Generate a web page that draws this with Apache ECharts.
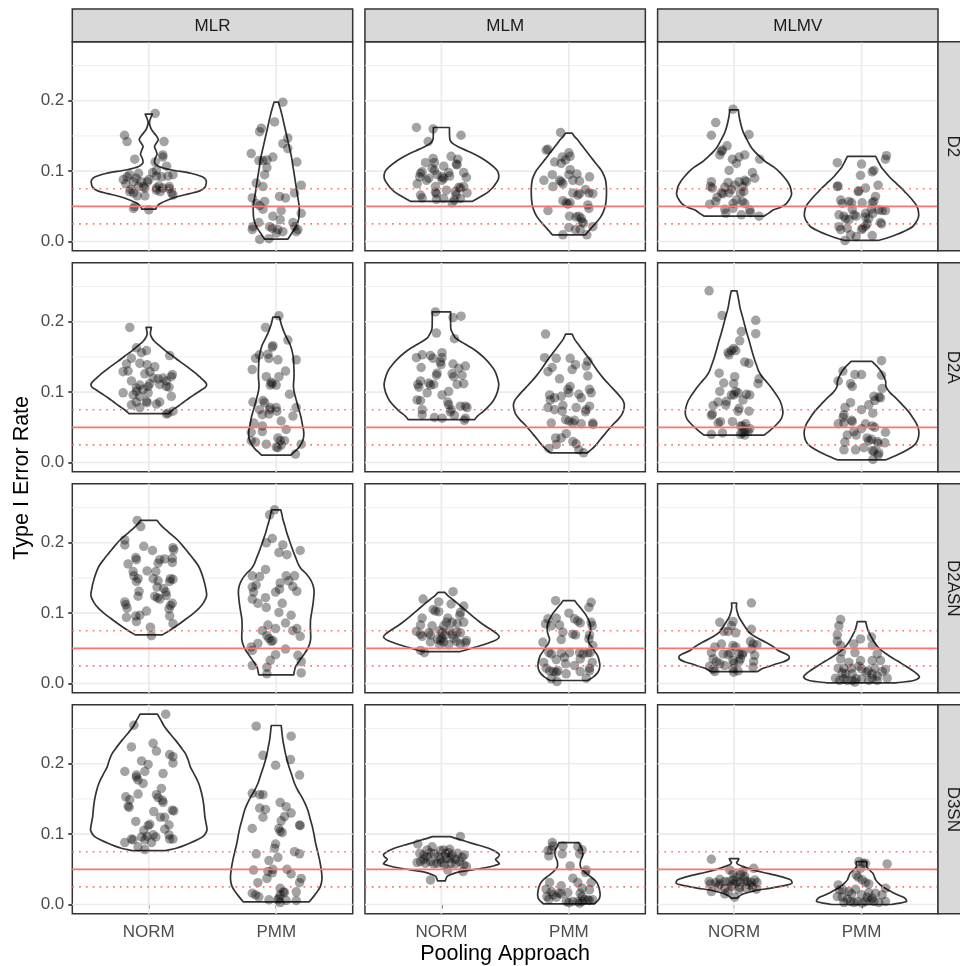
<!DOCTYPE html>
<html><head><meta charset="utf-8">
<script src="https://cdn.jsdelivr.net/npm/echarts@6/dist/echarts.min.js"></script>
<style>html,body{margin:0;padding:0;background:#fff}#c{width:960px;height:966px}</style>
</head><body><div id="c"></div>
<script>
// ---------- facet / axis labels ----------
const rowNames = ['D2','D2A','D2ASN','D3SN'];
const colNames = ['MLR','MLM','MLMV'];
const methods = ['NORM','PMM'];
const yTicks = [0, 0.1, 0.2];
const yMinorTicks = [0.05, 0.15, 0.25];
const refLines = [0.025, 0.05, 0.075];
const refTypes = ['dotted','solid','dotted'];
const yTitle = 'Type I Error Rate';
const xTitle = 'Pooling Approach';

// ---------- violin outlines: [value, half-width in category units] ----------
const D2_MLR_NORM_shape = [[0.181,0.028],[0.176,0.016],[0.170,0.006],[0.164,0.010],[0.158,0.025],[0.150,0.060],[0.145,0.075],[0.140,0.060],[0.135,0.045],[0.130,0.055],[0.124,0.065],[0.118,0.050],[0.112,0.045],[0.107,0.075],[0.102,0.170],[0.097,0.330],[0.092,0.420],[0.087,0.450],[0.082,0.450],[0.077,0.440],[0.072,0.400],[0.068,0.320],[0.064,0.230],[0.059,0.150],[0.054,0.090],[0.050,0.065],[0.046,0.055]];
const D2_MLR_PMM_shape = [[0.198,0.017],[0.190,0.030],[0.180,0.045],[0.168,0.060],[0.156,0.075],[0.144,0.090],[0.132,0.105],[0.120,0.120],[0.108,0.130],[0.097,0.140],[0.085,0.150],[0.073,0.160],[0.062,0.170],[0.050,0.180],[0.040,0.180],[0.031,0.175],[0.023,0.160],[0.0165,0.140],[0.010,0.115],[0.007,0.105],[0.0033,0.090]];
const D2_MLM_NORM_shape = [[0.162,0.063],[0.150,0.064],[0.144,0.068],[0.139,0.090],[0.134,0.140],[0.129,0.200],[0.124,0.260],[0.118,0.320],[0.112,0.370],[0.106,0.410],[0.100,0.440],[0.094,0.450],[0.088,0.445],[0.082,0.425],[0.076,0.400],[0.071,0.370],[0.066,0.330],[0.062,0.290],[0.057,0.240]];
const D2_MLM_PMM_shape = [[0.154,0.026],[0.149,0.045],[0.144,0.072],[0.137,0.100],[0.130,0.130],[0.123,0.160],[0.116,0.190],[0.108,0.225],[0.101,0.255],[0.094,0.275],[0.087,0.288],[0.078,0.294],[0.068,0.295],[0.058,0.292],[0.050,0.285],[0.042,0.270],[0.035,0.250],[0.028,0.220],[0.021,0.185],[0.015,0.155],[0.0095,0.130]];
const D2_MLMV_NORM_shape = [[0.187,0.034],[0.180,0.038],[0.173,0.045],[0.163,0.058],[0.154,0.075],[0.145,0.100],[0.135,0.130],[0.128,0.160],[0.121,0.200],[0.113,0.250],[0.106,0.310],[0.099,0.355],[0.092,0.390],[0.085,0.420],[0.078,0.440],[0.070,0.450],[0.066,0.450],[0.060,0.435],[0.054,0.410],[0.049,0.370],[0.045,0.310],[0.040,0.270],[0.036,0.235]];
const D2_MLMV_PMM_shape = [[0.121,0.111],[0.114,0.130],[0.106,0.154],[0.099,0.185],[0.092,0.218],[0.085,0.258],[0.078,0.300],[0.071,0.338],[0.064,0.375],[0.057,0.408],[0.050,0.435],[0.042,0.447],[0.035,0.447],[0.028,0.430],[0.021,0.400],[0.015,0.340],[0.0095,0.270],[0.005,0.200],[0.0015,0.130]];

const D2A_MLR_NORM_shape = [[0.192,0.021],[0.187,0.015],[0.182,0.013],[0.177,0.025],[0.172,0.046],[0.165,0.090],[0.158,0.137],[0.151,0.190],[0.144,0.240],[0.137,0.295],[0.130,0.345],[0.125,0.380],[0.120,0.410],[0.115,0.440],[0.111,0.454],[0.107,0.445],[0.104,0.420],[0.098,0.370],[0.092,0.320],[0.086,0.275],[0.080,0.230],[0.075,0.190],[0.0695,0.155]];
const D2A_MLR_PMM_shape = [[0.2065,0.026],[0.196,0.040],[0.186,0.060],[0.176,0.085],[0.167,0.110],[0.158,0.125],[0.148,0.135],[0.137,0.138],[0.125,0.140],[0.117,0.138],[0.110,0.135],[0.103,0.138],[0.097,0.145],[0.088,0.158],[0.080,0.170],[0.072,0.183],[0.064,0.195],[0.054,0.205],[0.045,0.215],[0.038,0.216],[0.032,0.210],[0.026,0.195],[0.022,0.180],[0.018,0.160],[0.014,0.135],[0.0104,0.115]];
const D2A_MLM_NORM_shape = [[0.214,0.072],[0.200,0.072],[0.189,0.075],[0.183,0.090],[0.177,0.110],[0.170,0.170],[0.163,0.235],[0.156,0.290],[0.148,0.340],[0.139,0.385],[0.130,0.420],[0.120,0.440],[0.111,0.450],[0.101,0.440],[0.092,0.420],[0.085,0.395],[0.078,0.360],[0.072,0.325],[0.066,0.283],[0.061,0.260]];
const D2A_MLM_PMM_shape = [[0.1825,0.026],[0.175,0.045],[0.167,0.078],[0.158,0.115],[0.148,0.157],[0.139,0.192],[0.130,0.226],[0.122,0.260],[0.115,0.294],[0.108,0.330],[0.101,0.366],[0.094,0.400],[0.088,0.425],[0.082,0.435],[0.075,0.430],[0.068,0.415],[0.061,0.385],[0.054,0.346],[0.047,0.312],[0.040,0.280],[0.033,0.248],[0.0255,0.215],[0.019,0.180],[0.0137,0.144]];
const D2A_MLMV_NORM_shape = [[0.244,0.022],[0.232,0.035],[0.219,0.048],[0.208,0.065],[0.196,0.082],[0.184,0.100],[0.172,0.120],[0.160,0.138],[0.148,0.157],[0.139,0.175],[0.130,0.193],[0.122,0.220],[0.115,0.253],[0.108,0.285],[0.101,0.313],[0.094,0.340],[0.087,0.362],[0.078,0.378],[0.070,0.383],[0.062,0.370],[0.054,0.333],[0.046,0.285],[0.0388,0.235]];
const D2A_MLMV_PMM_shape = [[0.1437,0.081],[0.137,0.120],[0.130,0.151],[0.122,0.175],[0.115,0.190],[0.110,0.190],[0.105,0.200],[0.099,0.225],[0.092,0.268],[0.082,0.320],[0.073,0.366],[0.063,0.405],[0.054,0.435],[0.047,0.447],[0.040,0.450],[0.032,0.440],[0.0255,0.418],[0.018,0.360],[0.0113,0.287],[0.0038,0.190]];

const D2ASN_MLR_NORM_shape = [[0.2317,0.065],[0.225,0.095],[0.219,0.130],[0.212,0.175],[0.205,0.220],[0.196,0.265],[0.186,0.310],[0.177,0.350],[0.167,0.390],[0.158,0.412],[0.148,0.430],[0.137,0.445],[0.125,0.454],[0.115,0.430],[0.106,0.390],[0.099,0.345],[0.092,0.294],[0.086,0.250],[0.080,0.202],[0.075,0.160],[0.069,0.105]];
const D2ASN_MLR_PMM_shape = [[0.2468,0.035],[0.240,0.045],[0.2335,0.052],[0.224,0.068],[0.2147,0.082],[0.205,0.100],[0.196,0.117],[0.186,0.137],[0.177,0.157],[0.170,0.172],[0.163,0.195],[0.156,0.235],[0.148,0.268],[0.139,0.290],[0.130,0.297],[0.120,0.293],[0.111,0.287],[0.101,0.278],[0.092,0.270],[0.085,0.268],[0.078,0.268],[0.070,0.270],[0.063,0.270],[0.056,0.262],[0.049,0.245],[0.042,0.220],[0.035,0.193],[0.029,0.170],[0.023,0.150],[0.0123,0.137]];
const D2ASN_MLM_NORM_shape = [[0.1295,0.026],[0.125,0.050],[0.120,0.085],[0.1154,0.117],[0.108,0.165],[0.101,0.209],[0.094,0.255],[0.087,0.303],[0.081,0.350],[0.075,0.402],[0.070,0.440],[0.066,0.454],[0.062,0.430],[0.0586,0.385],[0.055,0.330],[0.0515,0.261],[0.048,0.200],[0.0454,0.146]];
const D2ASN_MLM_PMM_shape = [[0.1177,0.046],[0.112,0.070],[0.106,0.098],[0.0965,0.137],[0.0846,0.167],[0.0752,0.170],[0.069,0.162],[0.0634,0.152],[0.057,0.160],[0.0515,0.183],[0.045,0.205],[0.0397,0.225],[0.032,0.238],[0.0255,0.243],[0.019,0.236],[0.0137,0.218],[0.009,0.190],[0.0043,0.148]];
const D2ASN_MLMV_NORM_shape = [[0.1144,0.020],[0.108,0.018],[0.101,0.026],[0.094,0.040],[0.087,0.063],[0.080,0.088],[0.0728,0.117],[0.066,0.170],[0.0586,0.248],[0.052,0.310],[0.0468,0.346],[0.0397,0.428],[0.035,0.430],[0.031,0.390],[0.028,0.333],[0.0245,0.280],[0.0217,0.228],[0.017,0.183]];
const D2ASN_MLMV_PMM_shape = [[0.088,0.033],[0.082,0.040],[0.075,0.052],[0.069,0.068],[0.0634,0.085],[0.056,0.110],[0.049,0.144],[0.042,0.195],[0.035,0.255],[0.029,0.310],[0.0232,0.360],[0.0185,0.400],[0.0137,0.435],[0.009,0.454],[0.0043,0.410],[0.0009,0.270]];

const D3SN_MLR_NORM_shape = [[0.2705,0.068],[0.262,0.095],[0.2525,0.124],[0.243,0.165],[0.2336,0.209],[0.224,0.250],[0.2147,0.287],[0.205,0.310],[0.1957,0.326],[0.184,0.360],[0.172,0.392],[0.160,0.412],[0.148,0.426],[0.137,0.434],[0.125,0.440],[0.115,0.450],[0.106,0.457],[0.101,0.445],[0.0965,0.424],[0.092,0.380],[0.087,0.320],[0.083,0.265],[0.080,0.215],[0.0766,0.130]];
const D3SN_MLR_PMM_shape = [[0.2544,0.039],[0.244,0.045],[0.2336,0.052],[0.224,0.062],[0.2147,0.072],[0.205,0.085],[0.1957,0.100],[0.184,0.122],[0.172,0.144],[0.162,0.170],[0.153,0.200],[0.144,0.225],[0.134,0.248],[0.122,0.266],[0.111,0.283],[0.099,0.297],[0.087,0.309],[0.075,0.325],[0.0634,0.340],[0.051,0.352],[0.0397,0.359],[0.032,0.356],[0.0255,0.346],[0.019,0.325],[0.0137,0.303],[0.0038,0.259]];
const D3SN_MLM_NORM_shape = [[0.0965,0.070],[0.094,0.110],[0.0917,0.157],[0.088,0.220],[0.0846,0.287],[0.080,0.370],[0.0752,0.425],[0.071,0.455],[0.0675,0.445],[0.0643,0.425],[0.061,0.440],[0.058,0.455],[0.0555,0.420],[0.0515,0.320],[0.048,0.200],[0.0454,0.117],[0.042,0.065],[0.0397,0.044],[0.0336,0.030]];
const D3SN_MLM_PMM_shape = [[0.088,0.078],[0.083,0.090],[0.078,0.105],[0.073,0.110],[0.068,0.105],[0.062,0.092],[0.056,0.088],[0.051,0.098],[0.046,0.125],[0.041,0.160],[0.036,0.195],[0.031,0.220],[0.025,0.235],[0.019,0.242],[0.013,0.245],[0.007,0.235],[0.001,0.200]];
const D3SN_MLMV_NORM_shape = [[0.0652,0.037],[0.062,0.030],[0.0596,0.020],[0.057,0.030],[0.0548,0.060],[0.052,0.100],[0.0492,0.150],[0.0455,0.230],[0.0421,0.313],[0.0385,0.390],[0.035,0.444],[0.0303,0.454],[0.0275,0.410],[0.0255,0.352],[0.023,0.280],[0.0208,0.196],[0.018,0.130],[0.016,0.089],[0.013,0.050],[0.009,0.022]];
const D3SN_MLMV_PMM_shape = [[0.061,0.040],[0.058,0.042],[0.0539,0.040],[0.049,0.062],[0.0444,0.089],[0.040,0.100],[0.035,0.111],[0.030,0.135],[0.0255,0.163],[0.021,0.205],[0.016,0.255],[0.0125,0.300],[0.009,0.340],[0.0043,0.352],[0.0,0.235]];

// ---------- jittered points: [horizontal jitter offset, error rate] ----------
const D2_MLR_NORM_pts = [[0.05,0.182],[-0.19,0.151],[-0.17,0.142],[0.12,0.142],[0.11,0.123],[0.11,0.120],[-0.11,0.117],[0.05,0.113],[0.14,0.107],[0.06,0.101],[-0.08,0.097],[-0.15,0.095],[-0.17,0.092],[-0.10,0.090],[0.0,0.088],[0.06,0.093],[0.10,0.092],[0.19,0.095],[0.15,0.093],[-0.06,0.085],[-0.01,0.085],[-0.18,0.082],[-0.12,0.085],[-0.08,0.078],[-0.04,0.078],[0.06,0.076],[0.11,0.076],[0.16,0.078],[0.16,0.075],[-0.15,0.071],[-0.12,0.069],[0.09,0.071],[0.18,0.069],[0.06,0.073],[-0.09,0.065],[-0.03,0.065],[0.19,0.066],[-0.11,0.050],[-0.12,0.047],[0.0,0.045],[-0.03,0.076],[-0.2,0.088],[0.03,0.098],[-0.14,0.074],[0.08,0.079]];
const D2_MLR_PMM_pts = [[0.052,0.198],[-0.013,0.170],[-0.117,0.161],[-0.13,0.156],[0.091,0.147],[0.052,0.139],[0.091,0.132],[-0.196,0.125],[-0.136,0.115],[-0.104,0.115],[-0.073,0.116],[-0.026,0.120],[0.162,0.113],[-0.073,0.105],[-0.091,0.095],[-0.157,0.083],[-0.104,0.078],[-0.188,0.062],[-0.157,0.054],[-0.13,0.051],[-0.104,0.046],[-0.091,0.057],[0.026,0.064],[0.073,0.062],[0.196,0.080],[0.144,0.069],[0.196,0.040],[-0.026,0.036],[0.039,0.044],[-0.136,0.027],[-0.183,0.021],[-0.188,0.017],[-0.052,0.021],[-0.031,0.019],[0.013,0.017],[0,0.012],[0.131,0.027],[0.144,0.021],[0.157,0.014],[0.17,0.017],[-0.13,0.003],[-0.057,0.004],[0.031,0.031],[0.052,0.014]];
const D2_MLM_NORM_pts = [[-0.196,0.162],[-0.065,0.160],[0.154,0.151],[-0.104,0.142],[0.076,0.121],[0.128,0.117],[0.117,0.110],[0.123,0.109],[-0.125,0.112],[-0.065,0.118],[-0.055,0.112],[-0.073,0.104],[0.018,0.107],[0.057,0.098],[0.005,0.092],[-0.164,0.097],[-0.17,0.092],[-0.151,0.099],[-0.19,0.082],[-0.055,0.101],[-0.034,0.095],[-0.099,0.090],[-0.117,0.087],[0.018,0.090],[0.065,0.093],[0.175,0.098],[0.196,0.091],[-0.047,0.078],[0.039,0.073],[0.136,0.077],[0.149,0.076],[0.175,0.078],[-0.047,0.070],[-0.039,0.068],[0.110,0.071],[0.201,0.069],[-0.164,0.066],[-0.151,0.062],[-0.039,0.060],[0.018,0.061],[0.084,0.055],[0.102,0.059],[0.149,0.061],[0.115,0.066],[0.005,0.087]];
const D2_MLM_PMM_pts = [[-0.065,0.155],[-0.178,0.130],[-0.164,0.131],[-0.052,0.120],[0,0.126],[0.01,0.121],[-0.112,0.113],[-0.06,0.111],[-0.026,0.116],[0.01,0.102],[0,0.095],[0.063,0.096],[-0.13,0.095],[-0.196,0.087],[-0.125,0.078],[-0.073,0.087],[-0.06,0.085],[-0.047,0.082],[0.084,0.086],[0.162,0.092],[0.031,0.069],[0.07,0.066],[0.084,0.068],[0.13,0.074],[0.157,0.069],[0.188,0.068],[-0.047,0.058],[-0.021,0.055],[-0.008,0.053],[0.01,0.055],[0.149,0.052],[0.157,0.047],[-0.164,0.044],[0.005,0.036],[0.057,0.035],[0.078,0.036],[0.097,0.033],[0.104,0.028],[0.115,0.026],[0,0.020],[0.052,0.017],[0.089,0.017],[0.188,0.021],[-0.047,0.0095],[0.141,0.0095],[0.031,0.087]];
const D2_MLMV_NORM_pts = [[-0.008,0.188],[-0.144,0.169],[-0.178,0.151],[0.117,0.152],[-0.055,0.136],[-0.099,0.128],[-0.112,0.123],[-0.091,0.130],[-0.013,0.117],[0.018,0.111],[0.039,0.120],[0.084,0.123],[0.201,0.117],[-0.039,0.101],[0.144,0.098],[0.162,0.090],[0.084,0.087],[0.097,0.085],[0.039,0.085],[-0.178,0.085],[-0.185,0.078],[-0.17,0.076],[-0.047,0.084],[0.005,0.080],[-0.073,0.077],[-0.021,0.074],[0.070,0.078],[0.050,0.069],[0.076,0.071],[-0.099,0.069],[-0.133,0.063],[-0.144,0.057],[-0.086,0.068],[-0.191,0.053],[-0.008,0.054],[0.018,0.059],[0.065,0.057],[0.084,0.054],[-0.073,0.046],[-0.065,0.040],[-0.008,0.047],[0.123,0.045],[0.128,0.041],[0.057,0.038],[0.196,0.036],[-0.039,0.069]];
const D2_MLMV_PMM_pts = [[-0.19,0.112],[0,0.110],[0.196,0.122],[0.188,0.117],[0.097,0.101],[0.084,0.099],[-0.008,0.094],[-0.185,0.079],[-0.19,0.078],[0.031,0.076],[-0.021,0.072],[-0.026,0.071],[0.13,0.080],[0.11,0.064],[0.097,0.057],[0.084,0.055],[0.005,0.055],[-0.164,0.059],[-0.151,0.054],[-0.099,0.057],[-0.078,0.055],[-0.177,0.038],[-0.138,0.036],[-0.125,0.032],[-0.099,0.031],[-0.06,0.038],[-0.042,0.036],[0.031,0.035],[0.031,0.040],[0.078,0.046],[0.089,0.040],[0.136,0.045],[0.162,0.044],[0.188,0.044],[0.057,0.033],[-0.177,0.021],[-0.164,0.017],[-0.112,0.019],[0.01,0.019],[0,0.017],[0.031,0.022],[0.044,0.025],[0.149,0.027],[0.157,0.025],[-0.086,0.0095],[-0.042,0.007],[0.084,0.0085],[-0.13,0.0014],[-0.073,0.046]];

const D2A_MLR_NORM_pts = [[-0.149,0.192],[-0.097,0.163],[-0.018,0.159],[-0.057,0.156],[-0.136,0.148],[0.164,0.152],[-0.07,0.141],[-0.013,0.139],[0.047,0.136],[-0.175,0.140],[-0.201,0.129],[-0.162,0.130],[-0.031,0.126],[0.008,0.129],[-0.136,0.116],[0.034,0.120],[0.073,0.119],[0.112,0.120],[0.138,0.116],[0.185,0.125],[0.177,0.122],[-0.07,0.110],[-0.097,0.106],[-0.044,0.104],[-0.005,0.108],[0.008,0.112],[0.086,0.111],[0.138,0.108],[0.159,0.107],[-0.201,0.099],[-0.097,0.101],[-0.123,0.096],[-0.07,0.094],[-0.005,0.099],[0.177,0.094],[-0.136,0.082],[-0.097,0.086],[-0.07,0.078],[-0.018,0.087],[-0.013,0.085],[0.06,0.083],[0.086,0.086],[0.138,0.069],[0.151,0.070],[0.19,0.073]];
const D2A_MLR_PMM_pts = [[0.021,0.2085],[-0.084,0.192],[0.091,0.174],[-0.026,0.166],[-0.031,0.164],[-0.131,0.153],[-0.065,0.154],[-0.057,0.148],[0.013,0.146],[-0.162,0.148],[0.157,0.146],[-0.188,0.132],[0.073,0.130],[-0.078,0.122],[0.021,0.122],[-0.039,0.114],[-0.047,0.110],[0,0.110],[-0.031,0.112],[0.104,0.097],[-0.183,0.086],[-0.104,0.088],[-0.091,0.085],[-0.047,0.078],[-0.052,0.075],[0.005,0.073],[-0.131,0.075],[0.157,0.078],[0.131,0.066],[-0.109,0.068],[-0.057,0.069],[0.039,0.059],[-0.175,0.056],[-0.109,0.052],[-0.109,0.044],[-0.196,0.043],[0.078,0.047],[-0.196,0.031],[-0.162,0.029],[-0.078,0.026],[0.013,0.035],[0.031,0.031],[0.065,0.031],[0,0.022],[0.013,0.021],[0.039,0.025],[0.196,0.026],[0.151,0.012],[0,0.078]];
const D2A_MLM_NORM_pts = [[-0.047,0.214],[0.091,0.206],[0.154,0.208],[-0.039,0.184],[0.102,0.176],[-0.196,0.149],[-0.151,0.153],[-0.086,0.152],[-0.065,0.148],[0.005,0.156],[0.005,0.149],[-0.008,0.143],[-0.003,0.139],[-0.159,0.135],[0.091,0.140],[0.136,0.134],[0.188,0.137],[-0.034,0.127],[-0.039,0.124],[0.084,0.126],[0.097,0.122],[0.162,0.124],[-0.164,0.116],[-0.185,0.111],[-0.177,0.107],[-0.099,0.113],[-0.086,0.110],[-0.06,0.111],[0.123,0.111],[0.175,0.112],[-0.112,0.099],[0.005,0.096],[0.057,0.101],[-0.191,0.089],[-0.164,0.088],[0.05,0.086],[0.057,0.082],[0.149,0.080],[0.188,0.080],[0.201,0.078],[-0.151,0.075],[-0.151,0.068],[0.076,0.075],[0.07,0.072],[0.102,0.067],[-0.055,0.064],[0.005,0.063],[0.188,0.063],[0.18,0.060]];
const D2A_MLM_PMM_pts = [[-0.183,0.1825],[-0.19,0.149],[-0.099,0.148],[0.01,0.148],[-0.131,0.135],[-0.164,0.129],[0.026,0.132],[0.052,0.139],[0.149,0.144],[0.136,0.137],[0.149,0.123],[-0.073,0.119],[0.01,0.108],[-0.008,0.104],[0,0.099],[-0.151,0.096],[-0.146,0.089],[-0.112,0.092],[-0.06,0.094],[0.078,0.097],[0.097,0.092],[0.162,0.104],[0.175,0.099],[-0.164,0.078],[-0.112,0.075],[-0.047,0.081],[0.057,0.078],[0.136,0.075],[0.13,0.072],[0.162,0.080],[-0.052,0.073],[-0.138,0.056],[-0.026,0.061],[0,0.059],[0.031,0.056],[0.044,0.060],[0.097,0.055],[0.188,0.056],[0.188,0.054],[-0.104,0.035],[-0.06,0.035],[-0.021,0.041],[-0.099,0.0255],[-0.157,0.020],[0.031,0.030],[0.057,0.0265],[0.078,0.018],[0.115,0.0137]];
const D2A_MLMV_NORM_pts = [[-0.196,0.244],[-0.094,0.209],[0.17,0.202],[0.17,0.183],[0.057,0.186],[0.044,0.173],[-0.003,0.162],[-0.021,0.159],[0.013,0.159],[-0.047,0.156],[-0.039,0.153],[0.084,0.143],[0.117,0.141],[-0.117,0.127],[0.005,0.122],[0.196,0.119],[0.188,0.112],[-0.081,0.113],[-0.003,0.112],[-0.112,0.101],[0.013,0.101],[0.031,0.099],[-0.021,0.096],[-0.003,0.096],[0.097,0.097],[0.123,0.096],[0.07,0.089],[-0.164,0.081],[-0.125,0.086],[-0.06,0.087],[-0.065,0.082],[0.039,0.077],[0.031,0.073],[0.117,0.073],[-0.17,0.069],[-0.178,0.067],[-0.125,0.056],[-0.107,0.058],[-0.013,0.058],[0.05,0.052],[0.065,0.052],[0.091,0.055],[0.123,0.048],[0.11,0.044],[0.084,0.044],[-0.178,0.040],[-0.091,0.042],[0.05,0.040],[0.084,0.039],[0.065,0.042]];
const D2A_MLMV_PMM_pts = [[0.157,0.1447],[-0.052,0.125],[0,0.125],[-0.146,0.130],[-0.183,0.116],[-0.086,0.112],[-0.073,0.108],[0.157,0.124],[0.162,0.105],[0.097,0.094],[0.136,0.093],[0.149,0.092],[0.104,0.088],[-0.086,0.085],[0,0.075],[0.057,0.082],[0.089,0.070],[-0.138,0.068],[-0.144,0.064],[-0.073,0.058],[-0.078,0.060],[-0.138,0.056],[-0.183,0.055],[0.031,0.055],[0.084,0.052],[0.104,0.050],[-0.06,0.044],[0,0.048],[-0.042,0.039],[0.188,0.043],[-0.112,0.039],[-0.131,0.029],[-0.138,0.018],[-0.047,0.018],[0.044,0.035],[0.057,0.031],[0.078,0.033],[0.123,0.030],[0.13,0.027],[0.183,0.028],[0.018,0.021],[0.084,0.017],[0.097,0.016],[0.136,0.0137],[0.13,0.0104],[0.089,0.0043],[-0.13,0.078]];

const D2ASN_MLR_NORM_pts = [[-0.091,0.2317],[-0.063,0.223],[-0.188,0.204],[-0.188,0.197],[-0.039,0.195],[0.029,0.189],[0.19,0.193],[0.196,0.190],[-0.102,0.179],[-0.097,0.176],[-0.162,0.170],[0.086,0.176],[0.073,0.171],[0.125,0.177],[0.185,0.178],[0.185,0.172],[-0.123,0.159],[-0.117,0.153],[-0.084,0.149],[-0.097,0.145],[-0.013,0.160],[0.055,0.159],[0.034,0.149],[0.073,0.146],[0.17,0.149],[0.19,0.148],[0.164,0.145],[0.065,0.137],[0.117,0.135],[0.133,0.130],[-0.076,0.131],[-0.084,0.124],[0.047,0.124],[0.068,0.122],[0.086,0.120],[0.138,0.125],[-0.188,0.116],[-0.18,0.112],[-0.17,0.107],[0.185,0.114],[0.17,0.111],[0.159,0.106],[-0.018,0.103],[-0.07,0.097],[-0.102,0.096],[-0.175,0.094],[-0.097,0.088],[0.164,0.096],[0.19,0.085],[0.013,0.080],[0.021,0.068]];
const D2ASN_MLR_PMM_pts = [[-0.052,0.2397],[-0.013,0.2468],[-0.078,0.200],[-0.031,0.206],[0.052,0.197],[0.021,0.186],[0.084,0.183],[0.188,0.189],[-0.084,0.162],[-0.188,0.153],[-0.13,0.152],[0.078,0.153],[0.144,0.153],[0.031,0.143],[0.099,0.146],[0.13,0.138],[-0.188,0.137],[-0.157,0.140],[-0.178,0.130],[-0.005,0.130],[0.026,0.134],[0.162,0.131],[-0.188,0.120],[-0.144,0.114],[-0.084,0.122],[0.047,0.114],[-0.078,0.108],[0.021,0.101],[0.117,0.097],[0.073,0.086],[-0.065,0.083],[-0.109,0.075],[-0.005,0.078],[0.13,0.075],[0.162,0.078],[0.188,0.067],[-0.073,0.068],[-0.057,0.064],[-0.039,0.060],[-0.026,0.061],[-0.144,0.057],[-0.196,0.052],[-0.188,0.047],[0.073,0.049],[-0.005,0.041],[-0.047,0.033],[0.17,0.040],[0.196,0.031],[-0.188,0.0255],[-0.073,0.023],[-0.073,0.0137],[0.196,0.0151]];
const D2ASN_MLM_NORM_pts = [[-0.144,0.120],[-0.021,0.116],[0.091,0.1305],[0.076,0.113],[0.175,0.110],[0.149,0.101],[0.144,0.097],[-0.065,0.105],[-0.021,0.102],[-0.151,0.093],[-0.164,0.083],[-0.073,0.082],[0.05,0.093],[0.039,0.087],[0.018,0.082],[0.084,0.087],[0.123,0.085],[0.175,0.087],[-0.196,0.074],[-0.164,0.070],[-0.151,0.067],[-0.099,0.072],[-0.086,0.069],[-0.013,0.075],[0.005,0.072],[0.031,0.069],[0.065,0.075],[0.084,0.070],[0.123,0.073],[0.149,0.072],[-0.029,0.063],[-0.008,0.061],[0.018,0.059],[0.005,0.064],[0.097,0.064],[0.117,0.060],[0.196,0.061],[0.188,0.058],[-0.086,0.059],[-0.013,0.055],[0.057,0.055],[0.149,0.056],[-0.164,0.047],[-0.133,0.044],[-0.047,0.103]];
const D2ASN_MLM_PMM_pts = [[-0.104,0.1177],[0.175,0.1154],[0.157,0.108],[-0.164,0.092],[-0.183,0.0846],[-0.138,0.082],[-0.099,0.093],[-0.073,0.083],[0,0.100],[0.044,0.092],[0.089,0.086],[0.07,0.089],[0.175,0.087],[0.183,0.082],[-0.047,0.073],[0.031,0.070],[0.052,0.069],[-0.06,0.0624],[0.162,0.069],[0.157,0.0634],[-0.204,0.0586],[0.188,0.054],[-0.157,0.044],[-0.138,0.042],[-0.06,0.0435],[0.005,0.044],[-0.034,0.037],[0.084,0.044],[0.11,0.042],[0.149,0.0435],[0.167,0.044],[0.089,0.035],[-0.099,0.034],[-0.198,0.030],[-0.178,0.0217],[-0.026,0.028],[0.044,0.0255],[0.183,0.030],[0.162,0.0217],[-0.151,0.018],[-0.12,0.017],[-0.099,0.016],[-0.086,0.018],[-0.021,0.0137],[0.089,0.017],[0.162,0.018],[-0.138,0.0066],[-0.094,0.0028],[0.136,0.0076]];
const D2ASN_MLMV_NORM_pts = [[0.136,0.1144],[-0.112,0.087],[-0.008,0.088],[-0.021,0.082],[-0.047,0.074],[0.013,0.072],[0.136,0.077],[-0.099,0.056],[-0.178,0.044],[-0.151,0.052],[-0.008,0.054],[0.013,0.052],[0.128,0.060],[0.149,0.056],[0.18,0.055],[0.136,0.049],[-0.086,0.042],[-0.047,0.041],[-0.029,0.0435],[0.039,0.042],[0.065,0.041],[0.07,0.044],[0.162,0.040],[0.154,0.031],[-0.164,0.035],[-0.138,0.031],[-0.112,0.028],[-0.008,0.0326],[-0.003,0.029],[0.039,0.031],[0.05,0.035],[-0.191,0.0246],[-0.164,0.020],[-0.151,0.017],[-0.073,0.0255],[-0.008,0.0208],[-0.003,0.016],[0.031,0.018],[0.149,0.023],[-0.081,0.074]];
const D2ASN_MLMV_PMM_pts = [[-0.164,0.0908],[-0.178,0.082],[-0.19,0.069],[-0.19,0.060],[-0.164,0.054],[-0.06,0.056],[-0.008,0.0634],[0.078,0.066],[0.084,0.054],[-0.157,0.045],[-0.164,0.035],[-0.052,0.044],[0.123,0.042],[-0.099,0.030],[-0.008,0.0326],[0.084,0.0326],[0.149,0.0326],[-0.183,0.0217],[-0.138,0.0217],[-0.078,0.0217],[-0.021,0.0246],[0,0.0208],[0.052,0.018],[0.104,0.0217],[0.188,0.020],[-0.151,0.0151],[-0.125,0.0137],[-0.073,0.0137],[0.037,0.016],[0.084,0.0137],[0.123,0.0104],[0.162,0.017],[-0.204,0.0076],[-0.172,0.0043],[-0.138,0.0066],[-0.112,0.0043],[-0.073,0.0043],[-0.052,0.0019],[-0.042,0.0066],[0,0.0066],[0.057,0.0043],[0.084,0.0076],[0.123,0.0043],[0.201,0.0076]];

const D3SN_MLR_NORM_pts = [[0.133,0.2705],[-0.117,0.2548],[-0.136,0.224],[0.034,0.229],[0.06,0.218],[0.19,0.210],[0.164,0.213],[0.19,0.201],[-0.188,0.189],[-0.097,0.184],[-0.097,0.181],[-0.057,0.204],[-0.031,0.189],[-0.005,0.199],[-0.084,0.177],[0.112,0.186],[-0.044,0.172],[0.099,0.165],[-0.18,0.153],[-0.149,0.149],[-0.084,0.157],[-0.162,0.140],[-0.154,0.138],[0.06,0.156],[0.073,0.152],[0.107,0.148],[0.112,0.145],[0.039,0.132],[0.185,0.134],[0.196,0.133],[-0.102,0.118],[0.091,0.124],[0.125,0.124],[0.008,0.114],[-0.005,0.112],[0.159,0.113],[0.125,0.107],[-0.039,0.105],[-0.057,0.096],[-0.013,0.097],[0.034,0.099],[0.055,0.096],[0.159,0.099],[0.164,0.093],[0.19,0.093],[-0.188,0.088],[-0.136,0.093],[-0.123,0.092],[-0.084,0.082],[-0.031,0.078],[-0.031,0.092],[0.021,0.088]];
const D3SN_MLR_PMM_pts = [[-0.157,0.2534],[0.117,0.2392],[-0.104,0.212],[0.112,0.206],[0.183,0.184],[-0.005,0.198],[-0.188,0.158],[-0.13,0.156],[-0.104,0.156],[0.031,0.145],[0.078,0.139],[0.117,0.130],[-0.13,0.137],[-0.084,0.135],[-0.104,0.124],[0.065,0.125],[0.039,0.119],[0.183,0.113],[0.188,0.112],[-0.188,0.108],[0.021,0.108],[0.031,0.104],[0.047,0.102],[-0.005,0.086],[-0.013,0.080],[-0.157,0.072],[0.144,0.075],[0.183,0.072],[0.013,0.067],[-0.057,0.0624],[-0.178,0.049],[-0.065,0.047],[-0.026,0.050],[-0.031,0.045],[0.084,0.050],[0.117,0.0435],[-0.144,0.031],[-0.073,0.037],[0.183,0.031],[0.196,0.037],[-0.188,0.016],[-0.162,0.0137],[-0.136,0.011],[0.031,0.023],[0.057,0.018],[0.065,0.017],[0.031,0.0137],[0.021,0.009],[0.157,0.018],[-0.057,0.0066],[0.013,0.0066],[0.078,0.0057],[0.157,0.0057],[0.031,0.0028]];
const D3SN_MLM_NORM_pts = [[0.149,0.0965],[-0.185,0.086],[-0.073,0.082],[-0.008,0.0766],[0.018,0.0775],[0.065,0.0785],[-0.17,0.0728],[-0.138,0.0705],[-0.112,0.068],[-0.086,0.0737],[-0.055,0.0719],[0.031,0.0719],[0.057,0.0737],[0.084,0.0705],[0.128,0.0728],[0.18,0.0705],[-0.191,0.0596],[-0.164,0.061],[-0.125,0.0586],[-0.086,0.061],[-0.06,0.0577],[-0.008,0.0643],[0.005,0.0596],[0.023,0.0563],[0.076,0.0586],[0.11,0.0577],[0.144,0.061],[0.175,0.0563],[0.196,0.054],[0.05,0.049],[0.17,0.0468],[-0.086,0.035],[-0.021,0.068],[0.039,0.0657],[-0.138,0.0643],[0.11,0.0643],[-0.112,0.0775],[-0.034,0.0586],[0.07,0.0657],[0.162,0.0672]];
const D3SN_MLM_PMM_pts = [[-0.13,0.088],[-0.125,0.0832],[-0.138,0.0775],[-0.164,0.0766],[-0.157,0.069],[-0.047,0.0832],[-0.052,0.0719],[0.07,0.0823],[0.084,0.0719],[0.104,0.0775],[0.01,0.0548],[0.136,0.049],[0.13,0.0454],[-0.151,0.0312],[-0.178,0.0217],[-0.138,0.0184],[-0.172,0.0113],[-0.157,0.0076],[-0.06,0.0265],[-0.078,0.016],[0.031,0.0374],[0.07,0.0312],[0.104,0.0232],[0.175,0.0312],[0.162,0.0208],[-0.125,0.0137],[-0.099,0.0104],[-0.06,0.0151],[-0.008,0.017],[0.089,0.016],[0.104,0.0113],[-0.021,0.0043],[0,0.0028],[0.031,0.0043],[0.07,0.0043],[0.084,0.0019],[0.104,0.0043],[0.123,0.0066],[0.162,0.0057],[0.188,0.0066],[0.149,0.0066]];
const D3SN_MLMV_NORM_pts = [[-0.178,0.0643],[0.154,0.0515],[-0.034,0.0492],[-0.008,0.0444],[0.05,0.0435],[0.07,0.0468],[-0.196,0.0326],[-0.185,0.0293],[-0.144,0.0312],[-0.112,0.0293],[-0.073,0.0326],[-0.039,0.0326],[-0.008,0.0293],[0.023,0.0326],[0.05,0.0312],[0.084,0.035],[0.102,0.0326],[0.136,0.0312],[0.162,0.035],[0.18,0.0312],[-0.125,0.0255],[-0.073,0.0232],[-0.021,0.0255],[0.044,0.0246],[0.097,0.0232],[0.144,0.0246],[-0.178,0.0184],[-0.073,0.0151],[0.005,0.0104],[0.084,0.0397],[0.018,0.0388],[0.039,0.0208],[-0.112,0.0359],[0.123,0.0279],[-0.047,0.0184],[0.175,0.0217],[-0.008,0.035]];
const D3SN_MLMV_PMM_pts = [[-0.021,0.061],[0.01,0.0586],[0.031,0.0586],[0.201,0.0577],[-0.008,0.0515],[-0.183,0.0279],[-0.172,0.0208],[-0.042,0.0421],[-0.026,0.0388],[0.005,0.035],[0.031,0.0312],[0.057,0.0293],[0.188,0.0232],[-0.146,0.0208],[-0.099,0.0184],[-0.047,0.0217],[-0.19,0.0113],[-0.151,0.0104],[-0.112,0.0076],[-0.078,0.0151],[0,0.0137],[0.057,0.017],[0.11,0.016],[0.162,0.0137],[-0.086,0.0043],[-0.06,0.0028],[-0.034,0.0043],[0.005,0.0019],[0.031,0.0043],[0.07,0.0057],[0.097,0.0043],[0.136,0.0028],[0.188,0.0043],[0.044,0.0104],[0.084,0.009],[-0.138,0.0028]];

// ---------- assemble lookup tables ----------
const shapeTable = [
  [[D2_MLR_NORM_shape,D2_MLR_PMM_shape],[D2_MLM_NORM_shape,D2_MLM_PMM_shape],[D2_MLMV_NORM_shape,D2_MLMV_PMM_shape]],
  [[D2A_MLR_NORM_shape,D2A_MLR_PMM_shape],[D2A_MLM_NORM_shape,D2A_MLM_PMM_shape],[D2A_MLMV_NORM_shape,D2A_MLMV_PMM_shape]],
  [[D2ASN_MLR_NORM_shape,D2ASN_MLR_PMM_shape],[D2ASN_MLM_NORM_shape,D2ASN_MLM_PMM_shape],[D2ASN_MLMV_NORM_shape,D2ASN_MLMV_PMM_shape]],
  [[D3SN_MLR_NORM_shape,D3SN_MLR_PMM_shape],[D3SN_MLM_NORM_shape,D3SN_MLM_PMM_shape],[D3SN_MLMV_NORM_shape,D3SN_MLMV_PMM_shape]]
];
const ptsTable = [
  [[D2_MLR_NORM_pts,D2_MLR_PMM_pts],[D2_MLM_NORM_pts,D2_MLM_PMM_pts],[D2_MLMV_NORM_pts,D2_MLMV_PMM_pts]],
  [[D2A_MLR_NORM_pts,D2A_MLR_PMM_pts],[D2A_MLM_NORM_pts,D2A_MLM_PMM_pts],[D2A_MLMV_NORM_pts,D2A_MLMV_PMM_pts]],
  [[D2ASN_MLR_NORM_pts,D2ASN_MLR_PMM_pts],[D2ASN_MLM_NORM_pts,D2ASN_MLM_PMM_pts],[D2ASN_MLMV_NORM_pts,D2ASN_MLMV_PMM_pts]],
  [[D3SN_MLR_NORM_pts,D3SN_MLR_PMM_pts],[D3SN_MLM_NORM_pts,D3SN_MLM_PMM_pts],[D3SN_MLMV_NORM_pts,D3SN_MLMV_PMM_pts]]
];

// ---------- layout ----------
const FONT = '"Liberation Sans", Arial, Helvetica, sans-serif';
const L0 = 72.3, PW = 280.4, DXP = 292.65;
const T0 = 41.8, PH = 209, DYP = 221;
const STRIP_TOP = 9;
const YMIN = -0.0132, YMAX = 0.2838;
const XMIN = 0.4, XMAX = 2.6;
const LW = 1.7;

const chart = echarts.init(document.getElementById('c'), null, {renderer:'canvas'});

const grids = [], xAxes = [], yAxes = [], series = [], graphics = [];

function gridRender(params, api){
  const cs = params.coordSys;
  const kind = api.value(0), v = api.value(1);
  if (kind === 2){
    const x = api.coord([v, 0])[0];
    return {type:'line', shape:{x1:x, y1:cs.y, x2:x, y2:cs.y+cs.height}, style:{stroke:'#EBEBEB', lineWidth:LW}};
  }
  const y = api.coord([1, v])[1];
  return {type:'line', shape:{x1:cs.x, y1:y, x2:cs.x+cs.width, y2:y}, style:{stroke:'#EBEBEB', lineWidth: kind === 0 ? LW : LW/2}};
}
function refRender(params, api){
  const cs = params.coordSys;
  const v = api.value(1);
  const y = api.coord([1, v])[1];
  const dotted = refTypes[params.dataIndex] === 'dotted';
  return {type:'line', shape:{x1:cs.x, y1:y, x2:cs.x+cs.width, y2:y},
    style:{stroke:'#F8766D', lineWidth:LW, lineDash: dotted ? [LW, LW*3] : null, lineCap:'butt'}};
}
function makeViolinRender(r, c){
  return function(params, api){
    const m = params.dataIndex;
    const cx = m + 1;
    const sh = shapeTable[r][c][m];
    const right = sh.map(p => api.coord([cx + p[1], p[0]]));
    const left = sh.slice().reverse().map(p => api.coord([cx - p[1], p[0]]));
    const n = right.length;
    const pts = [right[0]].concat(right, [right[n-1]], [left[0]], left, [left[n-1]]);
    return {type:'polygon', shape:{points:pts, smooth:0.3},
      style:{fill:'#FFFFFF', stroke:'#333333', lineWidth:LW, lineJoin:'round'}};
  };
}

const gridLineData = [];
yTicks.forEach(v => gridLineData.push([0, v]));
yMinorTicks.forEach(v => gridLineData.push([1, v]));
[1,2].forEach(v => gridLineData.push([2, v]));

for (let r = 0; r < 4; r++){
  for (let c = 0; c < 3; c++){
    const gi = r*3 + c;
    const left = L0 + c*DXP, top = T0 + r*DYP;
    grids.push({left:left, top:top, width:PW, height:PH, show:true,
      borderColor:'#333333', borderWidth:1.5, backgroundColor:'#FFFFFF', containLabel:false});
    xAxes.push({gridIndex:gi, type:'value', min:XMIN, max:XMAX, position:'bottom',
      axisLine:{show:false}, splitLine:{show:false},
      axisTick:{show:r===3, customValues:[1,2], length:4, lineStyle:{color:'#333333', width:LW}},
      axisLabel:{show:r===3, customValues:[1,2], formatter:(v)=>methods[Math.round(v)-1],
        color:'#4D4D4D', fontSize:17, fontFamily:FONT, margin:10}});
    yAxes.push({gridIndex:gi, type:'value', min:YMIN, max:YMAX, position:'left',
      axisLine:{show:false}, splitLine:{show:false},
      axisTick:{show:c===0, customValues:yTicks, length:4, lineStyle:{color:'#333333', width:LW}},
      axisLabel:{show:c===0, customValues:yTicks, formatter:(v)=>Number(v).toFixed(1),
        color:'#4D4D4D', fontSize:17, fontFamily:FONT, margin:8}});
    series.push({type:'custom', xAxisIndex:gi, yAxisIndex:gi, silent:true, z:1,
      renderItem:gridRender, data:gridLineData});
    series.push({type:'custom', xAxisIndex:gi, yAxisIndex:gi, silent:true, z:2,
      renderItem:makeViolinRender(r,c), data:[[1,0],[2,0]]});
    const pdata = [];
    for (let m = 0; m < 2; m++){
      ptsTable[r][c][m].forEach(p => pdata.push([m + 1 + p[0], p[1]]));
    }
    series.push({type:'scatter', xAxisIndex:gi, yAxisIndex:gi, silent:true, z:3,
      symbol:'circle', symbolSize:9.5, itemStyle:{color:'rgba(0,0,0,0.45)'}, data:pdata});
    series.push({type:'custom', xAxisIndex:gi, yAxisIndex:gi, silent:true, z:4,
      renderItem:refRender, data:refLines.map(v => [1, v])});
  }
}

// strips
for (let c = 0; c < 3; c++){
  const x = L0 + c*DXP;
  graphics.push({type:'rect', shape:{x:x, y:STRIP_TOP, width:PW, height:T0-STRIP_TOP},
    style:{fill:'#D9D9D9', stroke:'#333333', lineWidth:1.5}, z:10});
  graphics.push({type:'text', x:x+PW/2, y:(STRIP_TOP+T0)/2+0.5,
    style:{text:colNames[c], fill:'#1A1A1A', font:'17px '+FONT, align:'center', verticalAlign:'middle'}, z:11});
}
const SX = L0 + 2*DXP + PW;
for (let r = 0; r < 4; r++){
  const y = T0 + r*DYP;
  graphics.push({type:'rect', shape:{x:SX, y:y, width:40, height:PH},
    style:{fill:'#D9D9D9', stroke:'#333333', lineWidth:1.5}, z:10});
  graphics.push({type:'text', x:952.5, y:y+PH/2, rotation:-Math.PI/2,
    style:{text:rowNames[r], fill:'#1A1A1A', font:'17px '+FONT, align:'center', verticalAlign:'middle'}, z:11});
}
// axis titles
graphics.push({type:'text', x:22, y:T0 + (3*DYP + PH)/2, rotation:Math.PI/2,
  style:{text:yTitle, fill:'#000000', font:'21.5px '+FONT, align:'center', verticalAlign:'middle'}, z:11});
graphics.push({type:'text', x:L0 + (2*DXP + PW)/2, y:954,
  style:{text:xTitle, fill:'#000000', font:'21.5px '+FONT, align:'center', verticalAlign:'middle'}, z:11});

chart.setOption({
  animation:false,
  backgroundColor:'#FFFFFF',
  grid:grids, xAxis:xAxes, yAxis:yAxes, series:series, graphic:graphics
});
</script>
</body></html>
